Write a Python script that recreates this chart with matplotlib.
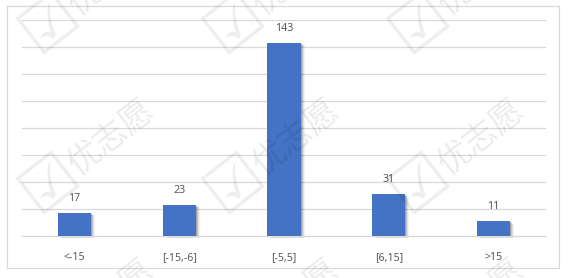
import matplotlib
matplotlib.use("Agg")
import matplotlib.pyplot as plt
import matplotlib.transforms as mtransforms
from matplotlib.patches import Rectangle

categories = ["<-15", "[-15,-6]", "[-5,5]", "[6,15]", ">15"]
counts = [17, 23, 143, 31, 11]

bar_color = "#4472C4"
grid_color = "#D9D9D9"
text_color = "#595959"

plt.rcParams['font.family'] = ['Noto Sans', 'DejaVu Sans']

fig = plt.figure(figsize=(5.69, 2.78), dpi=100)
W, H = 569, 278

# chart border
fig.patches.append(Rectangle((7 / W, 1 - 268 / H), 552 / W, 262 / H,
                             transform=fig.transFigure, fill=False,
                             edgecolor=grid_color, linewidth=0.9, zorder=0))

# watermark tiles
for cx in [90, 275, 460]:
    for cy in [-5, 155, 315]:
        fig.text((cx - 40) / W, 1 - (cy + 28) / H, "\u2611", fontsize=46,
                 family=['DejaVu Sans'], color="#000000", alpha=0.07,
                 rotation=38, ha="center", va="center", zorder=0)
        fig.text((cx + 22) / W, 1 - (cy - 18) / H, "优志愿", fontsize=24,
                 family=['Noto Sans CJK SC'], color="#000000", alpha=0.08,
                 rotation=38, ha="center", va="center", zorder=0)

ax = fig.add_axes([22 / W, 1 - 236 / H, 524 / W, 216 / H])
ax.set_facecolor("none")

x = list(range(len(categories)))
bw = 0.315

# soft shadow on the right / bottom of every bar
for d, a in [(4, 0.05), (3, 0.08), (2, 0.12), (1, 0.16)]:
    sh = ax.bar(x, counts, width=bw, color="#000000", alpha=a, zorder=2)
    off = mtransforms.ScaledTranslation(d / 100, -d / 100 * 0.6, fig.dpi_scale_trans)
    for p in sh:
        p.set_transform(ax.transData + off)
        p.set_clip_on(False)

ax.bar(x, counts, width=bw, color=bar_color, zorder=3)

for xi, v in zip(x, counts):
    ax.annotate(str(v), (xi, v), xytext=(0, 10.5), textcoords="offset points",
                ha="center", va="center", fontsize=7.6, color=text_color, zorder=4)

ax.set_xlim(-0.5, len(categories) - 0.5)
ax.set_ylim(0, 160)
ax.set_yticks(range(0, 161, 20))
ax.yaxis.grid(True, color=grid_color, linewidth=0.9)
ax.set_axisbelow(True)
ax.tick_params(axis="y", left=False, labelleft=False)
ax.tick_params(axis="x", bottom=False, pad=8, labelsize=7.6, labelcolor=text_color)
ax.set_xticks(x)
ax.set_xticklabels(categories)
for s in ["left", "right", "top"]:
    ax.spines[s].set_visible(False)
ax.spines["bottom"].set_color(grid_color)
ax.spines["bottom"].set_linewidth(0.9)

fig.savefig("out.png", dpi=100)
